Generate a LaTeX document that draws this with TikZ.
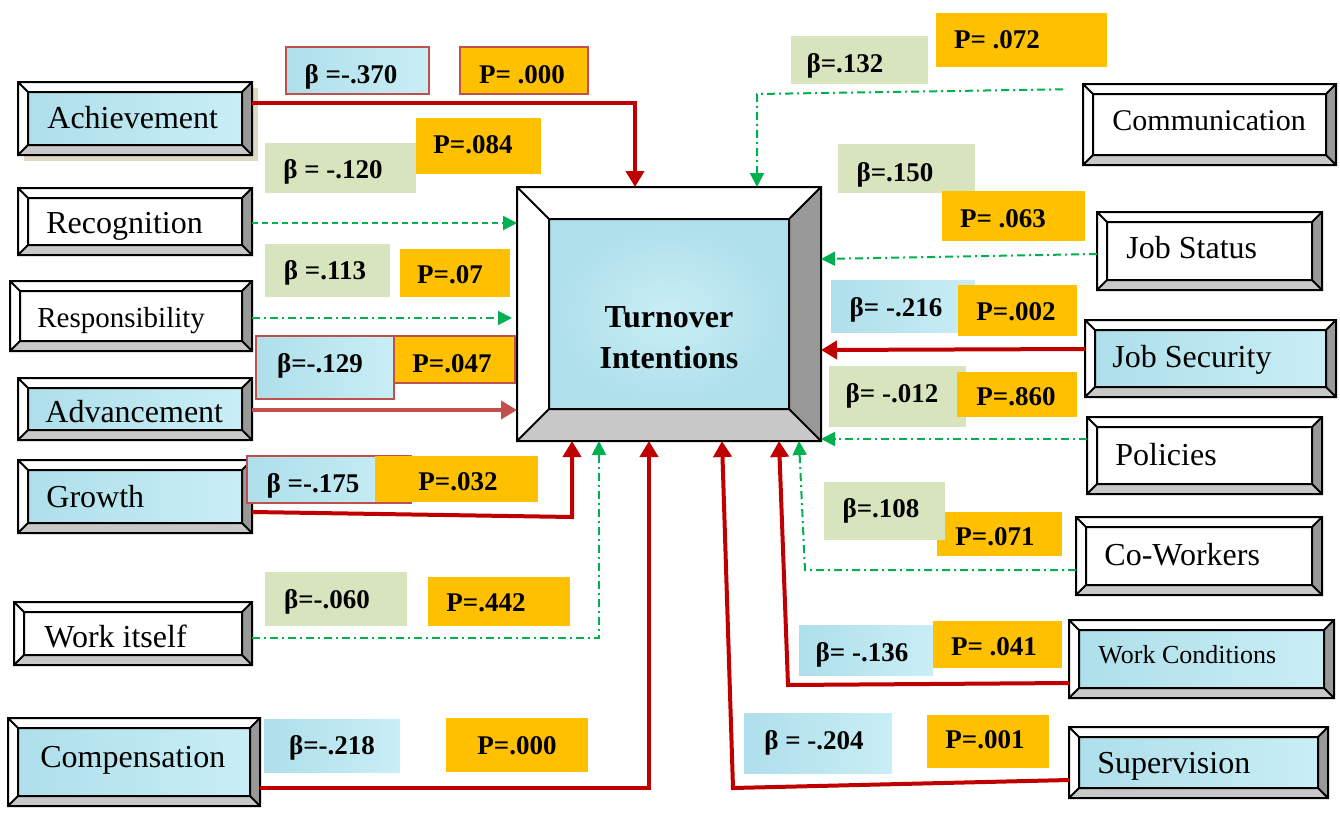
\documentclass[tikz,border=0pt]{standalone}
\usepackage{fontspec}
\setmainfont{Liberation Serif}
\usetikzlibrary{arrows.meta}
\definecolor{redl}{HTML}{C00000}
\definecolor{advred}{HTML}{C0504D}
\definecolor{grn}{HTML}{00B050}
\definecolor{org}{HTML}{FFC000}
\definecolor{lgrn}{HTML}{D7E4BD}
\definecolor{beige}{HTML}{DDD9C3}
\definecolor{bevdark}{HTML}{999999}
\definecolor{bevlight}{HTML}{C8C8C8}
\definecolor{texA}{HTML}{AEDFEA}
\definecolor{texB}{HTML}{C9EEF5}
\tikzset{
 boxline/.style={line width=1pt},
 boxtext/.style={anchor=base west, inner sep=0pt, font=\fontsize{16}{19}\selectfont},
 labtext/.style={anchor=base, inner sep=0pt, font=\bfseries\fontsize{13.5}{16}\selectfont},
 tifont/.style={anchor=base, inner sep=0pt, font=\bfseries\fontsize{16}{19}\selectfont},
 texfill/.style={left color=texA, right color=texB},
 wfill/.style={fill=white},
 gbox/.style={fill=lgrn},
 obox/.style={fill=org},
 rbord/.style={draw=advred, line width=0.75pt},
 strong/.style={draw=redl, line width=2pt, -{Triangle[length=8pt,width=9pt]}},
 weak/.style={draw=grn, line width=1pt, dash pattern=on 4pt off 2pt on 1pt off 2pt, -{Triangle[length=7pt,width=7pt]}},
 weakd/.style={draw=grn, line width=1pt, dash pattern=on 3pt off 2pt, -{Triangle[length=7pt,width=7pt]}},
}
\newcommand\bevbox[9]{%
 \fill[white] (#2,#3) rectangle (#4,#5);
 \fill[bevdark] (#4,#3) -- (#4,#5) -- ({#4-10},{#5-10}) -- ({#4-10},{#3+10}) -- cycle;
 \fill[bevlight] (#2,#5) -- (#4,#5) -- ({#4-10},{#5-10}) -- ({#2+10},{#5-10}) -- cycle;
 \path[#6] ({#2+10},{#3+10}) rectangle ({#4-10},{#5-10});
 \draw[boxline] (#2,#3) rectangle (#4,#5) ({#2+10},{#3+10}) rectangle ({#4-10},{#5-10})
   (#2,#3) -- ({#2+10},{#3+10}) (#4,#3) -- ({#4-10},{#3+10})
   (#2,#5) -- ({#2+10},{#5-10}) (#4,#5) -- ({#4-10},{#5-10});
 \node[inner sep=0pt, outer sep=0pt, minimum width={(#4-#2)*0.5pt}, minimum height={(#5-#3)*0.5pt}] (#1) at ({(#2+#4)/2},{(#3+#5)/2}) {};
 \node[boxtext,#8] (#1t) at (#7) {#9};
}
\begin{document}
\begin{tikzpicture}[x=0.5pt,y=-0.5pt]
\useasboundingbox[fill=white] (0,0) rectangle (1340,814);
% left boxes
\fill[beige] (24,88) rectangle (258,161);
\bevbox{ach}{18}{82}{252}{155}{texfill}{47,128}{}{Achievement}
\bevbox{rec}{18}{188}{252}{255}{wfill}{46,233}{}{Recognition}
\bevbox{res}{10}{281}{252}{351}{wfill}{37,327}{font=\fontsize{14.5}{17}\selectfont}{Responsibility}
\bevbox{adv}{18}{378}{252}{440}{texfill}{45,422}{}{Advancement}
\bevbox{gro}{18}{460}{252}{533}{texfill}{46,507}{}{Growth}
\bevbox{wrk}{14}{602}{252}{665}{wfill}{44,647}{}{Work itself}
\bevbox{cmp}{8}{718}{260}{806}{texfill}{40,767}{}{Compensation}
% right boxes
\bevbox{comm}{1083}{84}{1336}{165}{wfill}{1112,130}{font=\fontsize{15}{18}\selectfont}{Communication}
\bevbox{jst}{1097}{212}{1322}{290}{wfill}{1126,258}{}{Job Status}
\bevbox{jsec}{1085}{320}{1336}{397}{texfill}{1112,367}{}{Job Security}
\bevbox{pol}{1087}{417}{1322}{494}{wfill}{1115,465}{}{Policies}
\bevbox{cow}{1076}{517}{1322}{595}{wfill}{1104,565}{}{Co-Workers}
\bevbox{wc}{1069}{620}{1334}{698}{texfill}{1098,663}{font=\fontsize{13}{16}\selectfont}{Work Conditions}
\bevbox{sup}{1069}{727}{1328}{798}{texfill}{1097,773}{}{Supervision}
% central box
\fill[white] (517,187) rectangle (821,441);
\fill[bevdark] (821,187) -- (821,441) -- (789,409) -- (789,219) -- cycle;
\fill[bevlight] (517,441) -- (821,441) -- (789,409) -- (549,409) -- cycle;
\path[inner color=texB, outer color=texA] (549,219) rectangle (789,409);
\draw[line width=1pt] (517,187) rectangle (821,441) (549,219) rectangle (789,409)
  (517,187) -- (549,219) (821,187) -- (789,219) (517,441) -- (549,409) (821,441) -- (789,409);
\node[inner sep=0pt, outer sep=0pt, minimum width=152pt, minimum height=127pt] (ti) at (669,314) {};
\node[tifont] (ti1) at (669,327) {Turnover};
\node[tifont] (ti2) at (669,368) {Intentions};
% labels left
\path[texfill, rbord] (286,47) rectangle (429,94);
\node[labtext] (b1) at (351,83) {β =-.370};
\path[obox, rbord] (460,47) rectangle (588,94);
\node[labtext] (p1) at (522,83) {P= .000};
\path[obox] (416,118) rectangle (541,174);
\node[labtext] (p2) at (473,153) {P=.084};
\path[gbox] (265,143) rectangle (416,193);
\node[labtext] (b2) at (333,178) {β = -.120};
\path[gbox] (265,244) rectangle (390,297);
\node[labtext] (b3) at (325,279) {β =.113};
\path[obox] (400,249) rectangle (510,297);
\node[labtext] (p3) at (450,283) {P=.07};
\path[texfill, rbord] (256,336) rectangle (394,399);
\node[labtext] (b4) at (320,372) {β=-.129};
\path[obox, rbord] (394,336) rectangle (515,383);
\node[labtext] (p4) at (452,372) {P=.047};
\path[texfill, rbord] (247,456) rectangle (411,503);
\path[obox] (375,456) rectangle (538,502);
\node[labtext] (b5) at (313,492) {β =-.175};
\node[labtext] (p5) at (458,490) {P=.032};
\path[gbox] (265,572) rectangle (407,626);
\node[labtext] (b6) at (327,608) {β=-.060};
\path[obox] (428,577) rectangle (570,626);
\node[labtext] (p6) at (486,611) {P=.442};
\path[texfill] (264,719) rectangle (400,772);
\node[labtext] (b7) at (332,754) {β=-.218};
\path[obox] (446,718) rectangle (588,772);
\node[labtext] (p7) at (517,754) {P=.000};
% labels right
\path[gbox] (791,36) rectangle (928,84);
\node[labtext] (b8) at (845,72) {β=.132};
\path[obox] (936,13) rectangle (1107,67);
\node[labtext] (p8) at (997,48) {P= .072};
\path[gbox] (838,144) rectangle (975,193);
\node[labtext] (b9) at (895,181) {β=.150};
\path[obox] (942,191) rectangle (1085,241);
\node[labtext] (p9) at (1003,227) {P= .063};
\path[texfill] (831,280) rectangle (975,332);
\node[labtext] (b10) at (896,316) {β= -.216};
\path[obox] (958,285) rectangle (1077,336);
\node[labtext] (p10) at (1016,320) {P=.002};
\path[gbox] (829,366) rectangle (966,427);
\node[labtext] (b11) at (892,402) {β= -.012};
\path[obox] (957,372) rectangle (1077,417);
\node[labtext] (p11) at (1016,405) {P=.860};
\path[obox] (937,512) rectangle (1062,556);
\node[labtext] (p12) at (995,545) {P=.071};
\path[gbox] (824,482) rectangle (945,540);
\node[labtext] (b12) at (881,517) {β=.108};
\path[texfill] (799,625) rectangle (933,675);
\node[labtext] (b13) at (862,661) {β= -.136};
\path[obox] (933,621) rectangle (1062,668);
\node[labtext] (p13) at (994,655) {P= .041};
\path[texfill] (744,713) rectangle (892,773);
\node[labtext] (b14) at (814,749) {β = -.204};
\path[obox] (927,715) rectangle (1049,768);
\node[labtext] (p14) at (985,748) {P=.001};
% connectors
\draw[strong] (ach.east |- 0,103) -- (635,103) -- (635,0 |- ti.north);
\draw[weakd] (rec.east |- 0,223) -- (ti.west |- 0,223);
\draw[weak, shorten >=2.5pt] (res.east |- 0,318) -- (ti.west |- 0,318);
\draw[strong, draw=advred, line width=1.75pt] (adv.east |- 0,410) -- (ti.west |- 0,410);
\draw[strong] (gro.east |- 0,512) -- (572,517) -- (572,0 |- ti.south);
\draw[weak] (wrk.east |- 0,638) -- (599,638) -- (599,0 |- ti.south);
\draw[strong] (cmp.east |- 0,788) -- (649,788) -- (649,0 |- ti.south);
\draw[strong] (sup.west |- 0,780) -- (733,788) -- (722,0 |- ti.south);
\draw[strong] (wc.west |- 0,683) -- (788,685) -- (779,0 |- ti.south);
\draw[weak] (cow.west |- 0,570) -- (805,570) -- (799,0 |- ti.south);
\draw[weak] (pol.west |- 0,439) -- (ti.east |- 0,439);
\draw[strong] (jsec.west |- 0,349) -- (ti.east |- 0,350);
\draw[weak] (jst.west |- 0,254) -- (ti.east |- 0,259);
\draw[weak, shorten <=10pt] (comm.west |- 0,89) -- (757,94) -- (757,0 |- ti.north);
\end{tikzpicture}
\end{document}
